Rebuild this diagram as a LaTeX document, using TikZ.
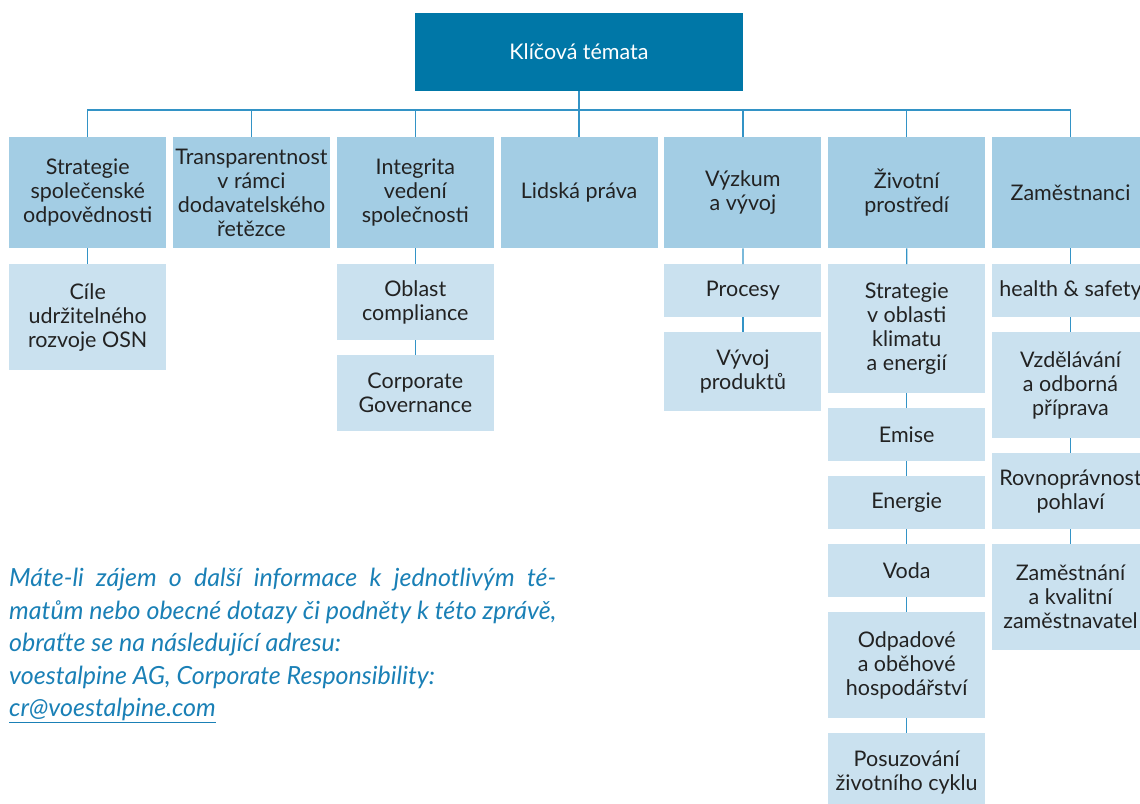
\documentclass[tikz,border=0pt]{standalone}
\usepackage{fontspec}
\setmainfont{Lato}
\usepackage{xcolor}
\usepackage{tikz}
\usetikzlibrary{calc}
\definecolor{topbg}{HTML}{0077A7}
\definecolor{colbg}{HTML}{A3CDE4}
\definecolor{subbg}{HTML}{CAE1EF}
\definecolor{wire}{HTML}{3393C6}
\definecolor{ink}{HTML}{222222}
\definecolor{note}{HTML}{1A80B6}
\tikzset{
  topbox/.style={fill=topbg, text=white, minimum width=328pt, minimum height=78pt, inner sep=0pt, font=\fontsize{21.5}{24}\selectfont},
  colbox/.style={fill=colbg, text=ink, minimum width=157pt, minimum height=111pt, inner sep=0pt, align=center, anchor=north west, font=\fontsize{21.5}{24}\selectfont},
  subbox/.style={fill=subbg, text=ink, minimum width=157pt, minimum height=#1, inner sep=0pt, align=center, anchor=north west, font=\fontsize{21.5}{24}\selectfont},
  conn/.style={draw=wire, line width=1.3pt},
  notetxt/.style={text=note, anchor=north west, text width=547pt, align=justify, inner sep=0pt, font=\fontsize{25}{32.5}\selectfont\itshape},
}

\begin{document}
\begin{tikzpicture}[x=1pt,y=-1pt]
  \useasboundingbox (0,0) rectangle (1140,803);
  \clip (0,0) rectangle (1140,803);
  \node[topbox] (top) at (579,52) {Klíčová témata};
  \coordinate (bus) at (579,110);
  \foreach \i/\lbl in {1/{Strategie\\společenské\\odpovědnosti},
      2/{Transparentnost\\v rámci\\dodavatelského\\řetězce},
      3/{Integrita\\vedení\\společnosti},
      4/{Lidská práva},
      5/{Výzkum\\a vývoj},
      6/{Životní\\prostředí},
      7/{Zaměstnanci}}
    \node[colbox] (c\i) at ({9+(\i-1)*163.8},137) {\lbl};
  \foreach \i in {1,...,7}
    \draw[conn] (top.south) -- (top.south |- bus) -| (c\i.north);

  \node[subbox=106pt] (s11) at (9,264) {Cíle\\udržitelného\\rozvoje OSN};

  \node[subbox=76pt] (s31) at (336.6,264) {Oblast\\compliance};
  \node[subbox=76pt] (s32) at (336.6,355) {Corporate\\Governance};

  \node[subbox=53pt] (s51) at (664.2,264) {Procesy};
  \node[subbox=79pt] (s52) at (664.2,332) {Vývoj\\produktů};

  \node[subbox=129pt] (s61) at (828,264) {Strategie\\v oblasti\\klimatu\\a energií};
  \node[subbox=53pt] (s62) at (828,408) {Emise};
  \node[subbox=53pt] (s63) at (828,476) {Energie};
  \node[subbox=53pt] (s64) at (828,544) {Voda};
  \node[subbox=106pt] (s65) at (828,612) {Odpadové\\a oběhové\\hospodářství};
  \node[subbox=79pt] (s66) at (828,733) {Posuzování\\životního cyklu};

  \node[subbox=53pt] (s71) at (991.8,264) {health \& safety};
  \node[subbox=106pt] (s72) at (991.8,332) {Vzdělávání\\a odborná\\příprava};
  \node[subbox=76pt] (s73) at (991.8,453) {Rovnoprávnost\\pohlaví};
  \node[subbox=106pt] (s74) at (991.8,544) {Zaměstnání\\a kvalitní\\zaměstnavatel};

  \draw[conn] (c1.south) -- (s11.north);
  \draw[conn] (c3.south) -- (s31.north);
  \draw[conn] (s31.south) -- (s32.north);
  \draw[conn] (c5.south) -- (s51.north);
  \draw[conn] (s51.south) -- (s52.north);
  \draw[conn] (c6.south) -- (s61.north);
  \draw[conn] (s61.south) -- (s62.north);
  \draw[conn] (s62.south) -- (s63.north);
  \draw[conn] (s63.south) -- (s64.north);
  \draw[conn] (s64.south) -- (s65.north);
  \draw[conn] (s65.south) -- (s66.north);
  \draw[conn] (c7.south) -- (s71.north);
  \draw[conn] (s71.south) -- (s72.north);
  \draw[conn] (s72.south) -- (s73.north);
  \draw[conn] (s73.south) -- (s74.north);

  \node[notetxt] (note) at (9,568) {Máte-li zájem o další informace k jednotlivým té-\linebreak
    matům nebo obecné dotazy či podněty k této zprávě,\linebreak
    obraťte se na následující adresu:\\
    voestalpine AG, Corporate Responsibility:\\
    \underline{cr@voestalpine.com}};
\end{tikzpicture}
\end{document}
